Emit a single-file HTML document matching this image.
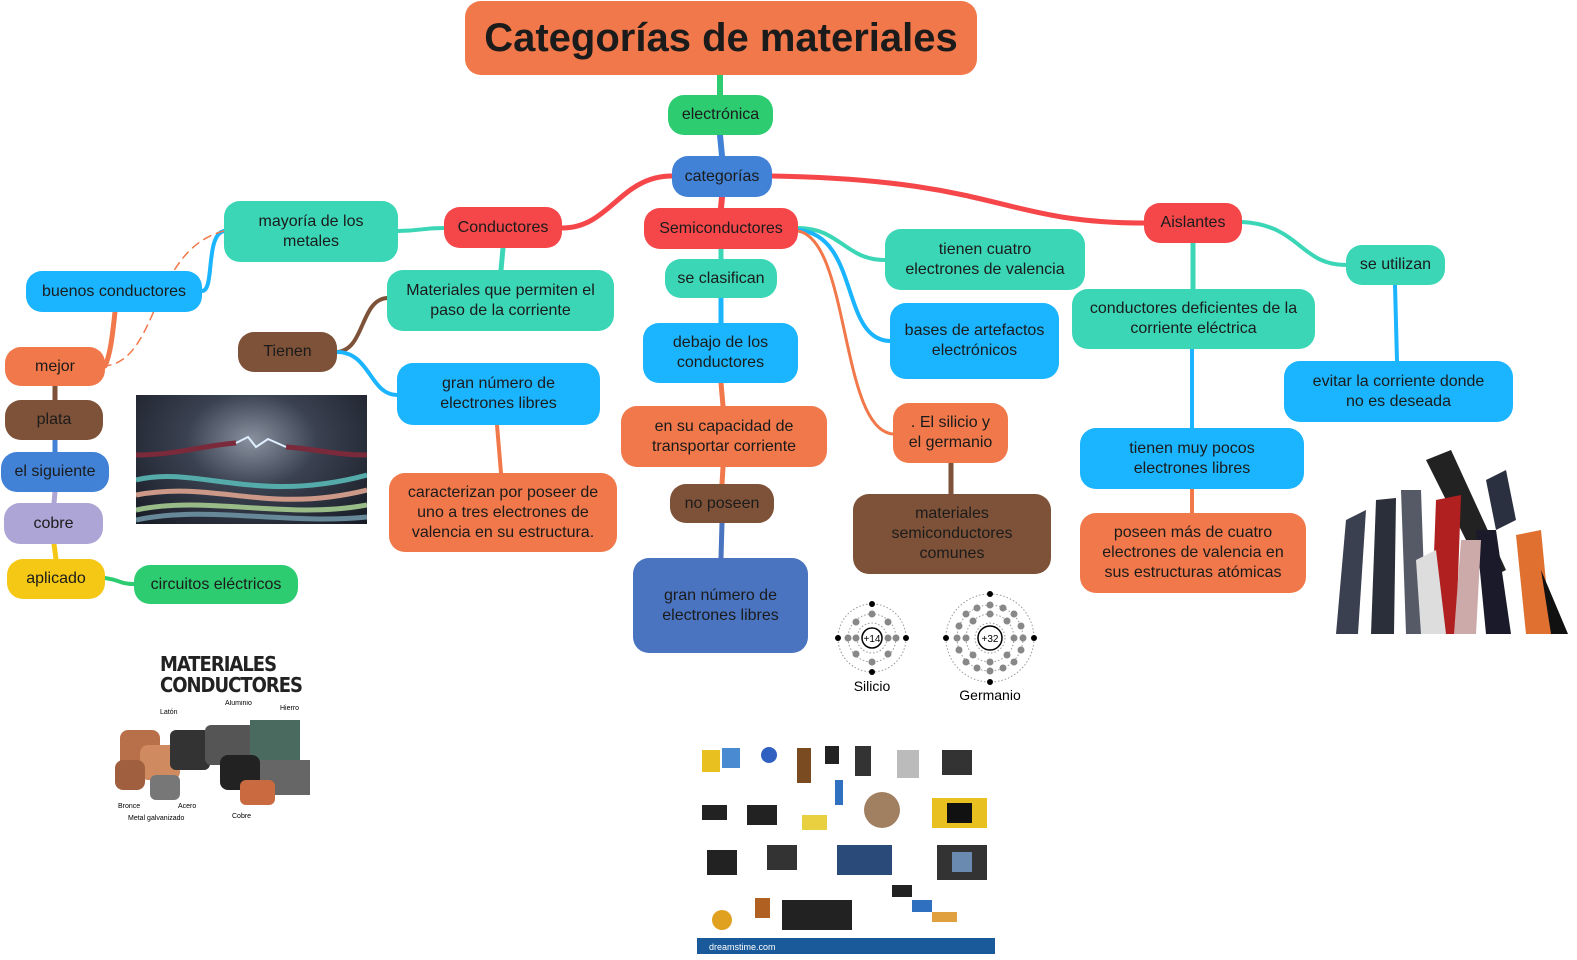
<!DOCTYPE html>
<html><head><meta charset="utf-8">
<style>
body{margin:0;width:1577px;height:960px;background:#fff;position:relative;overflow:hidden;font-family:"Liberation Sans","DejaVu Sans",sans-serif;}
.n{position:absolute;display:flex;align-items:center;justify-content:center;text-align:center;border-radius:16px;font-size:16px;line-height:20px;color:#1b1b1b;box-sizing:border-box;padding:0 6px;}
.or{background:#F0784A}.gr{background:#2ECC71}.bl{background:#4282D6}.rd{background:#F5474A}.te{background:#3AD6B6}.sk{background:#1AB4FF}.br{background:#7E5238}.lv{background:#ADA5D6}.ye{background:#F5C816}.db{background:#4A74C0}
svg{position:absolute;left:0;top:0}
</style></head><body>
<svg width="1577" height="960" fill="none" stroke-linecap="round">
<path d="M720 75 L720 95" stroke="#2ECC71" stroke-width="6"/>
<path d="M720 135 L722 156" stroke="#4282D6" stroke-width="6"/>
<path d="M672 176 C620 176 610 228 562 228" stroke="#F5474A" stroke-width="5"/>
<path d="M722 197 L721 208" stroke="#F5474A" stroke-width="6"/>
<path d="M772 176 C1000 180 1000 223 1144 223" stroke="#F5474A" stroke-width="5"/>
<path d="M444 228 C420 228 420 231 398 231" stroke="#3AD6B6" stroke-width="4"/>
<path d="M503 248 L501 270" stroke="#3AD6B6" stroke-width="5"/>
<path d="M224 231 C205 235 215 291 202 291" stroke="#1AB4FF" stroke-width="4"/>
<path d="M224 231 C150 250 160 360 105 366" stroke="#F0784A" stroke-width="1.5" stroke-dasharray="8 6"/>
<path d="M115 312 C112 340 110 355 105 366" stroke="#F0784A" stroke-width="5"/>
<path d="M55 386 L55 400" stroke="#7E5238" stroke-width="5"/>
<path d="M55 440 L55 452" stroke="#4282D6" stroke-width="5"/>
<path d="M55 492 L54 503" stroke="#ADA5D6" stroke-width="5"/>
<path d="M54 544 L56 559" stroke="#F5C816" stroke-width="5"/>
<path d="M105 578 C120 580 120 584 134 584" stroke="#2ECC71" stroke-width="4"/>
<path d="M337 352 C365 350 360 300 387 298" stroke="#7E5238" stroke-width="4"/>
<path d="M337 352 C370 352 370 395 397 395" stroke="#1AB4FF" stroke-width="4"/>
<path d="M497 425 L501 473" stroke="#F0784A" stroke-width="4"/>
<path d="M721 249 L721 259" stroke="#3AD6B6" stroke-width="5"/>
<path d="M721 298 L721 323" stroke="#1AB4FF" stroke-width="5"/>
<path d="M721 383 L723 406" stroke="#F0784A" stroke-width="5"/>
<path d="M723 467 L722 484" stroke="#F0784A" stroke-width="5"/>
<path d="M722 523 L721 558" stroke="#4A74C0" stroke-width="5"/>
<path d="M798 228 C840 228 845 260 885 260" stroke="#3AD6B6" stroke-width="4"/>
<path d="M798 230 C860 235 840 340 890 341" stroke="#1AB4FF" stroke-width="4"/>
<path d="M798 231 C850 240 840 430 893 434" stroke="#F0784A" stroke-width="3"/>
<path d="M951 463 L951 494" stroke="#7E5238" stroke-width="5"/>
<path d="M1193 243 L1193 289" stroke="#3AD6B6" stroke-width="5"/>
<path d="M1192 349 L1192 428" stroke="#1AB4FF" stroke-width="4"/>
<path d="M1192 489 L1192 513" stroke="#F0784A" stroke-width="4"/>
<path d="M1242 222 C1300 225 1300 265 1346 265" stroke="#3AD6B6" stroke-width="4"/>
<path d="M1395 285 L1397 361" stroke="#1AB4FF" stroke-width="4"/>
</svg>
<div class="n or" style="left:465px;top:1px;width:512px;height:74px;font-size:40px;font-weight:bold;border-radius:16px;line-height:44px">Categorías de materiales</div>
<div class="n gr" style="left:668px;top:95px;width:105px;height:40px">electrónica</div>
<div class="n bl" style="left:672px;top:156px;width:100px;height:41px">categorías</div>
<div class="n rd" style="left:444px;top:207px;width:118px;height:41px">Conductores</div>
<div class="n rd" style="left:644px;top:208px;width:154px;height:41px">Semiconductores</div>
<div class="n rd" style="left:1144px;top:203px;width:98px;height:40px">Aislantes</div>
<div class="n te" style="left:224px;top:201px;width:174px;height:61px">mayoría de los<br>metales</div>
<div class="n sk" style="left:26px;top:271px;width:176px;height:41px">buenos conductores</div>
<div class="n or" style="left:5px;top:347px;width:100px;height:39px">mejor</div>
<div class="n br" style="left:5px;top:400px;width:98px;height:40px">plata</div>
<div class="n bl" style="left:1px;top:452px;width:108px;height:40px">el siguiente</div>
<div class="n lv" style="left:4px;top:503px;width:99px;height:41px">cobre</div>
<div class="n ye" style="left:7px;top:559px;width:98px;height:40px">aplicado</div>
<div class="n gr" style="left:134px;top:565px;width:164px;height:39px">circuitos eléctricos</div>
<div class="n te" style="left:387px;top:270px;width:227px;height:61px">Materiales que permiten el<br>paso de la corriente</div>
<div class="n br" style="left:238px;top:332px;width:99px;height:40px">Tienen</div>
<div class="n sk" style="left:397px;top:363px;width:203px;height:62px">gran número de<br>electrones libres</div>
<div class="n or" style="left:389px;top:473px;width:228px;height:79px">caracterizan por poseer de<br>uno a tres electrones de<br>valencia en su estructura.</div>
<div class="n te" style="left:665px;top:259px;width:112px;height:39px">se clasifican</div>
<div class="n sk" style="left:643px;top:323px;width:155px;height:60px">debajo de los<br>conductores</div>
<div class="n or" style="left:621px;top:406px;width:206px;height:61px">en su capacidad de<br>transportar corriente</div>
<div class="n br" style="left:670px;top:484px;width:104px;height:39px">no poseen</div>
<div class="n db" style="left:633px;top:558px;width:175px;height:95px">gran número de<br>electrones libres</div>
<div class="n te" style="left:885px;top:229px;width:200px;height:61px">tienen cuatro<br>electrones de valencia</div>
<div class="n sk" style="left:890px;top:303px;width:169px;height:76px">bases de artefactos<br>electrónicos</div>
<div class="n or" style="left:893px;top:403px;width:115px;height:60px">. El silicio y<br>el germanio</div>
<div class="n br" style="left:853px;top:494px;width:198px;height:80px">materiales<br>semiconductores<br>comunes</div>
<div class="n te" style="left:1072px;top:289px;width:243px;height:60px">conductores deficientes de la<br>corriente eléctrica</div>
<div class="n sk" style="left:1080px;top:428px;width:224px;height:61px">tienen muy pocos<br>electrones libres</div>
<div class="n or" style="left:1080px;top:513px;width:226px;height:80px">poseen más de cuatro<br>electrones de valencia en<br>sus estructuras atómicas</div>
<div class="n te" style="left:1346px;top:245px;width:99px;height:40px">se utilizan</div>
<div class="n sk" style="left:1284px;top:361px;width:229px;height:61px">evitar la corriente donde<br>no es deseada</div>
<!-- wires image -->
<div style="position:absolute;left:136px;top:395px;width:231px;height:129px;background:radial-gradient(ellipse at 50% 35%,#8a92a0 0%,#3a4150 40%,#161a24 100%);overflow:hidden">
<svg width="231" height="129"><path d="M0 60 C40 60 70 50 100 48" stroke="#7a2a3a" stroke-width="5"/><path d="M150 52 C180 54 200 60 231 60" stroke="#7a2a3a" stroke-width="5"/><path d="M100 48 L112 42 L120 52 L132 44 L150 52" stroke="#dfefff" stroke-width="2" fill="none"/>
<path d="M0 85 C60 70 120 110 231 80" stroke="#5aa" stroke-width="5" fill="none"/><path d="M0 100 C80 85 130 120 231 95" stroke="#c98" stroke-width="5" fill="none"/><path d="M0 115 C70 100 150 125 231 110" stroke="#9b8" stroke-width="5" fill="none"/><path d="M0 125 C70 110 150 130 231 122" stroke="#689" stroke-width="5" fill="none"/></svg></div>
<!-- materiales conductores -->
<div style="position:absolute;left:160px;top:654px;font-family:'DejaVu Sans Condensed','Liberation Sans Narrow',sans-serif;font-weight:bold;font-size:20px;line-height:21px;color:#222;letter-spacing:-1px">MATERIALES<br>CONDUCTORES</div>
<svg style="left:110px;top:700px" width="215" height="130">
<rect x="10" y="30" width="40" height="40" rx="8" fill="#b8704a"/><rect x="30" y="45" width="40" height="35" rx="8" fill="#d08a60"/><rect x="60" y="30" width="40" height="40" rx="6" fill="#333"/><rect x="95" y="25" width="50" height="40" rx="6" fill="#555"/><rect x="140" y="20" width="50" height="50" fill="#4a6a60"/><rect x="110" y="55" width="40" height="35" rx="8" fill="#222"/><rect x="150" y="60" width="50" height="35" fill="#666"/><rect x="5" y="60" width="30" height="30" rx="8" fill="#a06040"/><rect x="40" y="75" width="30" height="25" rx="6" fill="#777"/><rect x="130" y="80" width="35" height="25" rx="6" fill="#c96a40"/>
<text x="50" y="14" font-size="7" fill="#000">Latón</text><text x="115" y="5" font-size="7" fill="#000">Aluminio</text><text x="170" y="10" font-size="7" fill="#000">Hierro</text><text x="8" y="108" font-size="7" fill="#000">Bronce</text><text x="68" y="108" font-size="7" fill="#000">Acero</text><text x="18" y="120" font-size="7" fill="#000">Metal galvanizado</text><text x="122" y="118" font-size="7" fill="#000">Cobre</text></svg>
<!-- atoms -->
<svg style="left:820px;top:590px" width="240" height="120" font-family="Liberation Sans,sans-serif">
<g stroke="#999" stroke-dasharray="1.5 2" fill="none"><circle cx="52" cy="48" r="15"/><circle cx="52" cy="48" r="24"/><circle cx="52" cy="48" r="34"/>
<circle cx="170" cy="48" r="15"/><circle cx="170" cy="48" r="24"/><circle cx="170" cy="48" r="33"/><circle cx="170" cy="48" r="44"/></g>
<circle cx="52" cy="48" r="10" fill="#fff" stroke="#000" stroke-width="1.5"/><text x="52" y="52" font-size="10" text-anchor="middle">+14</text>
<circle cx="170" cy="48" r="12" fill="#fff" stroke="#000" stroke-width="1.5"/><text x="170" y="52" font-size="10" text-anchor="middle">+32</text>
<g fill="#888"><circle cx="28" cy="48" r="3.5"/><circle cx="36" cy="48" r="3.5"/><circle cx="68" cy="48" r="3.5"/><circle cx="76" cy="48" r="3.5"/><circle cx="52" cy="24" r="3.5"/><circle cx="52" cy="72" r="3.5"/><circle cx="36" cy="32" r="3.5"/><circle cx="68" cy="32" r="3.5"/><circle cx="36" cy="64" r="3.5"/><circle cx="68" cy="64" r="3.5"/>
<circle cx="146" cy="48" r="3.5"/><circle cx="137" cy="48" r="3.5"/><circle cx="194" cy="48" r="3.5"/><circle cx="203" cy="48" r="3.5"/><circle cx="170" cy="24" r="3.5"/><circle cx="170" cy="15" r="3.5"/><circle cx="170" cy="72" r="3.5"/><circle cx="170" cy="81" r="3.5"/><circle cx="153" cy="31" r="3.5"/><circle cx="187" cy="31" r="3.5"/><circle cx="153" cy="65" r="3.5"/><circle cx="187" cy="65" r="3.5"/><circle cx="146" cy="24" r="3.5"/><circle cx="194" cy="24" r="3.5"/><circle cx="146" cy="72" r="3.5"/><circle cx="194" cy="72" r="3.5"/><circle cx="139" cy="36" r="3.5"/><circle cx="201" cy="36" r="3.5"/><circle cx="139" cy="60" r="3.5"/><circle cx="201" cy="60" r="3.5"/><circle cx="157" cy="18" r="3.5"/><circle cx="183" cy="18" r="3.5"/><circle cx="157" cy="78" r="3.5"/><circle cx="183" cy="78" r="3.5"/></g>
<g fill="#000"><circle cx="18" cy="48" r="3"/><circle cx="86" cy="48" r="3"/><circle cx="52" cy="14" r="3"/><circle cx="52" cy="82" r="3"/><circle cx="126" cy="48" r="3"/><circle cx="214" cy="48" r="3"/><circle cx="170" cy="4" r="3"/><circle cx="170" cy="92" r="3"/></g>
<text x="52" y="101" font-size="14" text-anchor="middle">Silicio</text><text x="170" y="110" font-size="14" text-anchor="middle">Germanio</text></svg>
<!-- components -->
<svg style="left:697px;top:740px" width="298" height="214">
<rect x="5" y="10" width="18" height="22" fill="#e8c020"/><rect x="25" y="8" width="18" height="20" fill="#4a8ad0"/><circle cx="72" cy="15" r="8" fill="#3060c0"/><rect x="100" y="8" width="14" height="35" fill="#7a4a20"/><rect x="128" y="6" width="14" height="18" fill="#222"/><rect x="158" y="6" width="16" height="30" fill="#333"/><rect x="200" y="10" width="22" height="28" fill="#bbb"/><rect x="245" y="10" width="30" height="25" fill="#333"/>
<rect x="5" y="65" width="25" height="15" fill="#222"/><rect x="50" y="65" width="30" height="20" fill="#222"/><rect x="105" y="75" width="25" height="15" fill="#e8d040"/><rect x="138" y="40" width="8" height="25" fill="#3070c0"/><circle cx="185" cy="70" r="18" fill="#a08060"/><rect x="235" y="58" width="55" height="30" fill="#e8c020"/><rect x="250" y="63" width="25" height="20" fill="#111"/>
<rect x="10" y="110" width="30" height="25" fill="#222"/><rect x="70" y="105" width="30" height="25" fill="#333"/><rect x="140" y="105" width="55" height="30" fill="#2a4a7a"/><rect x="240" y="105" width="50" height="35" fill="#333"/><rect x="255" y="112" width="20" height="20" fill="#6a8ab0"/>
<rect x="15" y="170" width="20" height="20" rx="10" fill="#e0a020"/><rect x="58" y="158" width="15" height="20" fill="#b06020"/><rect x="85" y="160" width="70" height="30" fill="#222"/><rect x="195" y="145" width="20" height="12" fill="#222"/><rect x="215" y="160" width="20" height="12" fill="#3070c0"/><rect x="235" y="172" width="25" height="10" fill="#e0a040"/>
<rect x="0" y="198" width="298" height="16" fill="#1a5a9a"/><text x="12" y="210" font-size="9" fill="#fff" font-family="Liberation Sans,sans-serif">dreamstime.com</text></svg>
<!-- sleeves -->
<svg style="left:1336px;top:450px" width="232" height="184">
<path d="M10 70 L30 60 L22 184 L0 184 Z" fill="#3a4050"/><path d="M40 50 L60 48 L58 184 L35 184 Z" fill="#2a2f3a"/><path d="M65 40 L85 40 L90 184 L70 184Z" fill="#555a66"/><path d="M90 10 L115 0 L170 120 L150 130Z" fill="#222"/><path d="M100 50 L125 45 L120 184 L95 184Z" fill="#b02020"/><path d="M80 110 L100 100 L110 184 L85 184Z" fill="#ddd"/><path d="M140 80 L160 80 L175 184 L150 184Z" fill="#1a1a2a"/><path d="M180 85 L205 80 L215 184 L190 184Z" fill="#e07030"/><path d="M125 90 L145 90 L140 184 L118 184Z" fill="#caa"/><path d="M205 120 L232 184 L215 184Z" fill="#111"/><path d="M150 30 L170 20 L180 70 L160 80Z" fill="#2a3040"/></svg>
</body></html>
